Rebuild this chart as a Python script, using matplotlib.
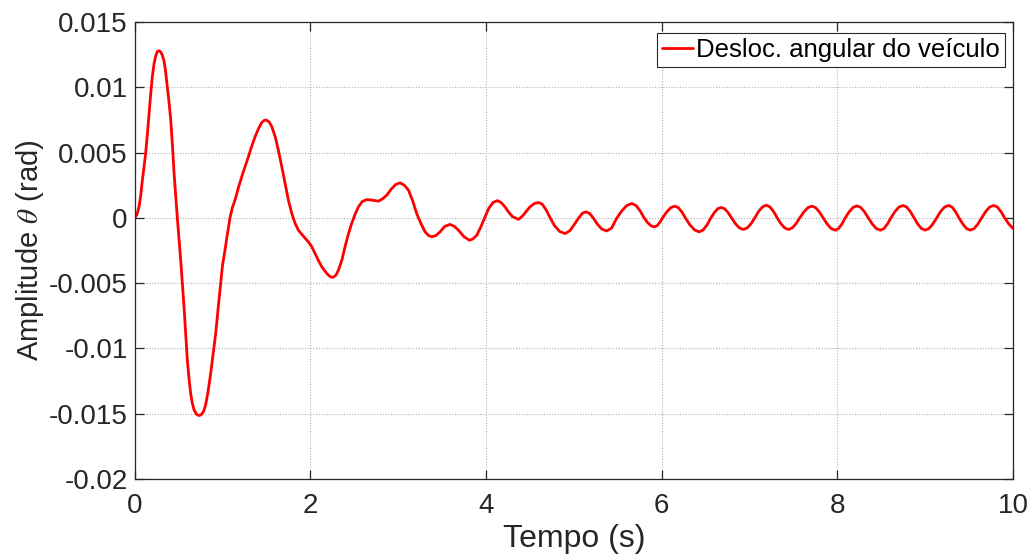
import matplotlib
matplotlib.use("Agg")
import matplotlib.pyplot as plt
import numpy as np

# time (s) and angular displacement (x 1e-3 rad)
t = [0, 0.025, 0.049, 0.068, 0.087, 0.106, 0.125, 0.144, 0.163, 0.182, 0.2, 0.22,
     0.239, 0.258, 0.277, 0.296, 0.315, 0.334, 0.352, 0.371, 0.39, 0.41, 0.43, 0.448,
     0.466, 0.485, 0.504, 0.523, 0.542, 0.561, 0.58, 0.599, 0.618, 0.637, 0.656,
     0.675, 0.7, 0.72, 0.74, 0.76, 0.785, 0.808, 0.835, 0.865, 0.893, 0.922, 0.95,
     0.979, 1.0, 1.028, 1.05, 1.085, 1.11, 1.142, 1.18, 1.218, 1.255, 1.294, 1.33,
     1.37, 1.41, 1.446, 1.475, 1.495, 1.53, 1.56, 1.6, 1.635, 1.675, 1.712, 1.75,
     1.788, 1.825, 1.863, 1.92, 1.977, 2.015, 2.053, 2.09, 2.13, 2.187, 2.225, 2.255,
     2.29, 2.32, 2.36, 2.395, 2.43, 2.47, 2.51, 2.547, 2.59, 2.642, 2.7, 2.775,
     2.82, 2.87, 2.92, 2.97, 3.02, 3.07, 3.117, 3.165, 3.21, 3.26, 3.306, 3.345,
     3.382, 3.43, 3.477, 3.53, 3.59, 3.64, 3.685, 3.75, 3.81, 3.85, 3.895, 3.94,
     3.985, 4.03, 4.08, 4.13, 4.17, 4.215, 4.255, 4.3, 4.37, 4.42, 4.46, 4.5,
     4.55, 4.597, 4.64, 4.685, 4.73, 4.78, 4.84, 4.9, 4.955, 5.005, 5.055, 5.1,
     5.14, 5.18, 5.22, 5.27, 5.32, 5.375, 5.43, 5.49, 5.547, 5.603, 5.66, 5.707,
     5.753, 5.8, 5.838, 5.877, 5.915, 5.947, 5.978, 6.01, 6.057, 6.103, 6.15,
     6.19, 6.23, 6.27, 6.322, 6.375, 6.427, 6.471, 6.516, 6.56, 6.599, 6.638,
     6.677, 6.716, 6.756, 6.795, 6.84, 6.885, 6.93, 6.973, 7.017, 7.06, 7.103,
     7.147, 7.19, 7.232, 7.273, 7.315, 7.358, 7.401, 7.444, 7.487, 7.529, 7.572,
     7.618, 7.664, 7.71, 7.753, 7.795, 7.838, 7.884, 7.93, 7.976, 8.014, 8.052,
     8.09, 8.134, 8.179, 8.223, 8.266, 8.309, 8.352, 8.398, 8.444, 8.49, 8.53,
     8.57, 8.61, 8.656, 8.701, 8.747, 8.789, 8.831, 8.873, 8.915, 8.958, 9.0,
     9.043, 9.087, 9.13, 9.175, 9.221, 9.266, 9.306, 9.345, 9.385, 9.428, 9.471,
     9.514, 9.557, 9.6, 9.643, 9.689, 9.734, 9.78, 9.822, 9.863, 9.905, 9.95, 10.0]

theta_milli = [0, 0.25, 0.85, 1.7, 2.9, 3.9, 5.0, 6.4, 8.0, 9.5, 10.8, 11.8,
               12.4, 12.75, 12.8, 12.7, 12.45, 12.0, 11.2, 10.0, 8.9, 7.5, 5.5, 3.4,
               1.7, 0, -1.6, -3.2, -5.0, -6.8, -8.8, -10.9, -12.3, -13.45, -14.2,
               -14.7, -15.0, -15.12, -15.13, -15.05, -14.8, -14.3, -13.3, -11.9, -10.4, -8.85, -6.9,
               -5.0, -3.6, -2.47, -1.45, 0, 0.75, 1.36, 2.3, 3.14, 3.9, 4.67, 5.45,
               6.2, 6.85, 7.3, 7.47, 7.5, 7.35, 7.0, 6.2, 5.2, 3.9, 2.64, 1.35,
               0.34, -0.4, -0.94, -1.4, -1.84, -2.2, -2.72, -3.25, -3.75, -4.26, -4.5, -4.56,
               -4.4, -4.0, -3.2, -2.2, -1.3, -0.43, 0.3, 0.84, 1.25, 1.4, 1.36, 1.28,
               1.45, 1.74, 2.2, 2.55, 2.68, 2.5, 2.12, 1.3, 0.34, -0.45, -1.07, -1.35,
               -1.45, -1.35, -1.07, -0.65, -0.5, -0.65, -0.94, -1.45, -1.71, -1.62, -1.32, -0.7,
               0, 0.72, 1.18, 1.32, 1.18, 0.85, 0.46, 0.1, -0.12, 0.18, 0.52, 0.84,
               1.1, 1.18, 1.05, 0.6, 0, -0.6, -1.05, -1.2, -0.98, -0.5, 0, 0.37,
               0.46, 0.33, 0, -0.5, -0.87, -1.0, -0.78, 0, 0.55, 0.95, 1.1, 0.95,
               0.55, 0, -0.35, -0.6, -0.69, -0.6, -0.35, 0, 0.45, 0.78, 0.90,
               0.78, 0.45, 0, -0.54, -0.93, -1.07, -0.93, -0.54, 0, 0.40, 0.70,
               0.80, 0.70, 0.40, 0, -0.45, -0.77, -0.89, -0.77, -0.45, 0, 0.49,
               0.84, 0.97, 0.84, 0.49, 0, -0.45, -0.77, -0.89, -0.77, -0.45, 0,
               0.45, 0.78, 0.90, 0.78, 0.45, 0, -0.47, -0.82, -0.94, -0.82, -0.47,
               0, 0.46, 0.80, 0.92, 0.80, 0.46, 0, -0.47, -0.82, -0.94, -0.82,
               -0.47, 0, 0.48, 0.83, 0.95, 0.83, 0.48, 0, -0.47, -0.82, -0.94,
               -0.82, -0.47, 0, 0.48, 0.83, 0.95, 0.83, 0.48, 0, -0.47, -0.82,
               -0.94, -0.82, -0.47, 0, 0.48, 0.83, 0.95, 0.83, 0.48, 0, -0.45, -0.81]

xticks = [0, 2, 4, 6, 8, 10]
xtick_labels = ["0", "2", "4", "6", "8", "10"]
yticks = [-0.02, -0.015, -0.01, -0.005, 0, 0.005, 0.01, 0.015]
ytick_labels = ["-0.02", "-0.015", "-0.01", "-0.005", "0", "0.005", "0.01", "0.015"]
legend_label = "Desloc. angular do veículo"

plt.rcParams["font.family"] = ["Liberation Sans", "DejaVu Sans"]
plt.rcParams["mathtext.fontset"] = "stix"

dark = "#262626"
fig = plt.figure(figsize=(10.34, 5.6), dpi=100)
ax = fig.add_axes([0.1303, 0.1446, 0.8494, 0.8161])

theta = np.array(theta_milli) * 1e-3
ax.plot(t, theta, color="#ff0000", lw=2.0, label=legend_label,
        solid_joinstyle="round", solid_capstyle="round")

ax.set_xlim(0, 10)
ax.set_ylim(-0.02, 0.015)
ax.set_xticks(xticks)
ax.set_xticklabels(xtick_labels)
ax.set_yticks(yticks)
ax.set_yticklabels(ytick_labels)

ax.grid(True, color="#b0b0b0", linestyle=(0, (1, 1.5)), linewidth=0.8)
ax.tick_params(direction="in", length=6.5, width=0.9, colors=dark,
               labelsize=20, top=True, right=True, pad=5)
ax.tick_params(axis="x", pad=10)
for s in ax.spines.values():
    s.set_color(dark)
    s.set_linewidth(0.9)

ax.set_xlabel("Tempo (s)", fontsize=23, color=dark, labelpad=4)
ax.set_ylabel(r"Amplitude $\theta$ (rad)", fontsize=21, color=dark, labelpad=2)

leg = ax.legend(loc="upper right", bbox_to_anchor=(0.9909, 0.9759), borderaxespad=0,
                fontsize=18.5, frameon=True, fancybox=False,
                handlelength=1.2, handletextpad=0.12, borderpad=0.2)
leg.get_frame().set_edgecolor(dark)
leg.get_frame().set_linewidth(0.8)
leg.get_frame().set_alpha(1)

fig.savefig("out.png", dpi=100)
